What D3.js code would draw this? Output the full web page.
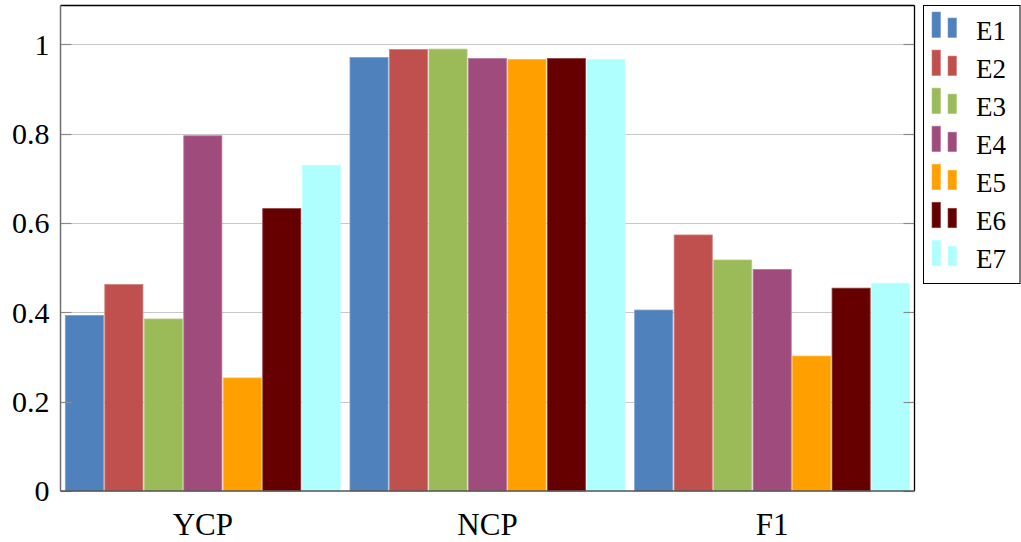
<!DOCTYPE html>
<html>
<head>
<meta charset="utf-8">
<script src="https://cdn.jsdelivr.net/npm/d3@7"></script>
<style>
  html, body { margin: 0; padding: 0; background: #fff; }
  svg { display: block; }
  svg text { font-family: "Liberation Serif", "Times New Roman", Tinos, Times !important; }
</style>
</head>
<body>
<svg id="chart" width="1021" height="542" font-family="Liberation Serif"></svg>
<script>
const categories = ["YCP", "NCP", "F1"];
const seriesNames = ["E1", "E2", "E3", "E4", "E5", "E6", "E7"];
const E1 = [0.393, 0.970, 0.405];
const E2 = [0.462, 0.988, 0.573];
const E3 = [0.385, 0.989, 0.517];
const E4 = [0.795, 0.968, 0.496];
const E5 = [0.253, 0.966, 0.302];
const E6 = [0.632, 0.968, 0.454];
const E7 = [0.729, 0.966, 0.465];
const yTicks = [0, 0.2, 0.4, 0.6, 0.8, 1];
const yTickLabels = ["0", "0.2", "0.4", "0.6", "0.8", "1"];
const colors = ["#4f81bd", "#c0504d", "#9bbb59", "#9f4c7c", "#ffa000", "#660000", "#b0ffff"];

const seriesValues = [E1, E2, E3, E4, E5, E6, E7];
const FONT = '"Liberation Serif", "Times New Roman", Tinos, Times';

const svg = d3.select("#chart");
const pL = 60.5, pR = 914.5, pT = 5.5, pB = 491;

const y = d3.scaleLinear().domain([0, 1.0866]).range([pB, pT]);
const x0 = d3.scaleBand().domain(categories).range([pL, pR]).padding(0);
const groupW = 275;
const x1 = d3.scaleBand().domain(seriesNames).range([-groupW / 2, groupW / 2]).paddingInner(0.035).paddingOuter(0);

// grid lines
svg.append("g").selectAll("line").data(yTicks.filter(d => d > 0)).join("line")
  .attr("x1", pL).attr("x2", pR)
  .attr("y1", d => Math.round(y(d)) + 0.5).attr("y2", d => Math.round(y(d)) + 0.5)
  .attr("stroke", "#c8c8c8").attr("stroke-width", 1);

// bars
const gBars = svg.append("g");
seriesNames.forEach((s, si) => {
  const strokeC = d3.interpolateRgb(colors[si], "#ffffff")(0.25);
  gBars.append("g").selectAll("rect").data(categories.map((cat, ci) => ({cat, v: seriesValues[si][ci]})))
    .join("rect")
    .attr("x", d => x0(d.cat) + x0.bandwidth() / 2 + x1(s))
    .attr("width", x1.bandwidth())
    .attr("y", d => y(d.v))
    .attr("height", d => y(0) - y(d.v))
    .attr("fill", colors[si])
    .attr("stroke", strokeC)
    .attr("stroke-width", 0.8);
});

// ticks inside on both sides
const tickLen = 11;
const tg = svg.append("g");
yTicks.forEach(t => {
  const yy = Math.round(y(t)) + 0.5;
  tg.append("line").attr("x1", pL).attr("x2", pL + tickLen).attr("y1", yy).attr("y2", yy)
    .attr("stroke", "#8a8a8a").attr("stroke-width", 1.2);
  tg.append("line").attr("x1", pR - tickLen).attr("x2", pR).attr("y1", yy).attr("y2", yy)
    .attr("stroke", "#8a8a8a").attr("stroke-width", 1.2);
});

// frame
svg.append("line").attr("x1", pL).attr("x2", pR).attr("y1", pT).attr("y2", pT).attr("stroke", "#000").attr("stroke-width", 1.3);
svg.append("line").attr("x1", pR).attr("x2", pR).attr("y1", pT).attr("y2", pB).attr("stroke", "#000").attr("stroke-width", 1.3);
svg.append("line").attr("x1", pL).attr("x2", pL).attr("y1", pT).attr("y2", pB).attr("stroke", "#6f6f6f").attr("stroke-width", 1.5);
svg.append("line").attr("x1", pL).attr("x2", pR).attr("y1", pB).attr("y2", pB).attr("stroke", "#555").attr("stroke-width", 1.5);

// y tick labels
const yAxis = d3.axisLeft(y).tickValues(yTicks).tickFormat((d, i) => yTickLabels[i]).tickSize(0).tickPadding(0);
const ya = svg.append("g").attr("transform", `translate(${pL - 11},0)`).call(yAxis);
ya.attr("font-family", FONT).attr("font-size", 30);
ya.select(".domain").remove();
ya.selectAll("text").attr("font-family", FONT).style("font-size", "30px").attr("fill", "#000").attr("dy", "0.33em");

// x category labels
const xAxis = d3.axisBottom(x0).tickSize(0).tickPadding(0);
const xa = svg.append("g").attr("transform", `translate(0,${pB})`).call(xAxis);
xa.attr("font-family", FONT).attr("font-size", 31);
xa.select(".domain").remove();
xa.selectAll("text").attr("font-family", FONT).style("font-size", "31px").attr("fill", "#000").attr("dy", null).attr("y", 44);

// legend
const lg = svg.append("g").attr("font-family", FONT);
lg.append("rect").attr("x", 923.5).attr("y", 5.5).attr("width", 96.5).attr("height", 278)
  .attr("fill", "#fff").attr("stroke", "#000").attr("stroke-width", 1);
const rowStep = 38.05;
seriesNames.forEach((s, i) => {
  const base = 37.5 + i * rowStep;
  const strokeC = d3.interpolateRgb(colors[i], "#ffffff")(0.25);
  lg.append("rect").attr("x", 932).attr("y", base - 25.5).attr("width", 8.5).attr("height", 25.5)
    .attr("fill", colors[i]).attr("stroke", strokeC).attr("stroke-width", 0.6);
  lg.append("rect").attr("x", 948).attr("y", base - 19.5).attr("width", 8.5).attr("height", 19.5)
    .attr("fill", colors[i]).attr("stroke", strokeC).attr("stroke-width", 0.6);
  lg.append("text").attr("x", 976).attr("y", base + 2).attr("font-family", FONT).style("font-size", "27px").attr("fill", "#000").text(s);
});
</script>
</body>
</html>
